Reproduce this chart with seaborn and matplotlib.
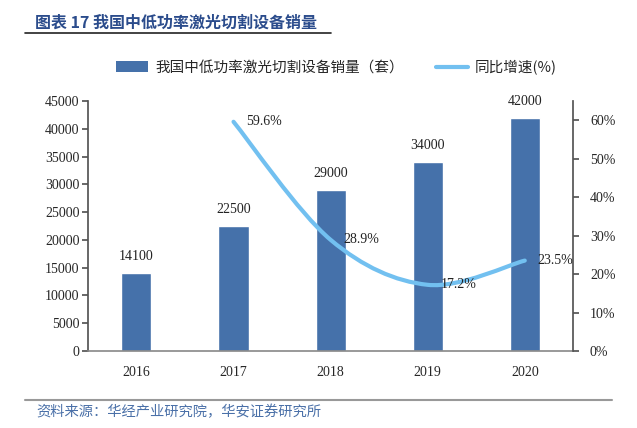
import numpy as np
import pandas as pd
import matplotlib
matplotlib.use("Agg")
import matplotlib.pyplot as plt
from matplotlib.path import Path
from matplotlib.patches import PathPatch, Patch
from matplotlib.lines import Line2D
import seaborn as sns

years = ["2016", "2017", "2018", "2019", "2020"]
sales = [14100, 22500, 29000, 34000, 42000]
growth = [None, 0.596, 0.289, 0.172, 0.235]
growth_labels = ["", "59.6%", "28.9%", "17.2%", "23.5%"]

bar_color = "#4571AA"
line_color = "#72C0F0"
title_color = "#2B4C8C"
cjk = ["Noto Sans CJK SC", "DejaVu Sans"]
serif = ["Liberation Serif", "DejaVu Serif"]

sns.set_theme(style="white")
plt.rcParams["font.family"] = serif

df = pd.DataFrame({"year": years, "sales": sales})

fig = plt.figure(figsize=(6.37, 4.28), dpi=100)
ax = fig.add_axes([0.138, 0.18, 0.762, 0.584])

sns.barplot(data=df, x="year", y="sales", color=bar_color, width=0.31,
            saturation=1, ax=ax)
ax.set_ylim(0, 45000)
ax.set_yticks(range(0, 45001, 5000))
ax.set_xlabel("")
ax.set_ylabel("")
for i, v in enumerate(sales):
    ax.text(i, v + 1800, str(v), ha="center", va="bottom", fontsize=10,
            color="#222222")

for s in ["top", "right"]:
    ax.spines[s].set_visible(False)
ax.spines["left"].set_color("#555555")
ax.spines["bottom"].set_color("#888888")
ax.spines["bottom"].set_linewidth(1.2)
ax.tick_params(axis="y", left=True, length=4, color="#555555", labelsize=10,
               pad=2)
ax.tick_params(axis="x", bottom=False, labelsize=10, pad=5)

ax2 = ax.twinx()
ax2.set_ylim(0, 0.65)
ax2.set_yticks(np.arange(0, 0.61, 0.1))
ax2.set_yticklabels([f"{int(round(t * 100))}%" for t in np.arange(0, 0.61, 0.1)])
for s in ["top", "left", "bottom"]:
    ax2.spines[s].set_visible(False)
ax2.spines["right"].set_color("#555555")
ax2.tick_params(axis="y", right=True, length=4, color="#555555", labelsize=10,
                pad=8)
ax2.grid(False)
ax.grid(False)

# smooth line (Catmull-Rom rendered as cubic Bezier through the data points)
pts = [(i, g) for i, g in enumerate(growth) if g is not None]
verts = [pts[0]]
codes = [Path.MOVETO]
for k in range(len(pts) - 1):
    p0 = pts[k - 1] if k > 0 else pts[k]
    p1, p2 = pts[k], pts[k + 1]
    p3 = pts[k + 2] if k + 2 < len(pts) else pts[k + 1]
    c1 = (p1[0] + (p2[0] - p0[0]) / 6, p1[1] + (p2[1] - p0[1]) / 6)
    c2 = (p2[0] - (p3[0] - p1[0]) / 6, p2[1] - (p3[1] - p1[1]) / 6)
    verts += [c1, c2, p2]
    codes += [Path.CURVE4] * 3
ax2.add_patch(PathPatch(Path(verts, codes), facecolor="none",
                        edgecolor=line_color, lw=3, capstyle="round"))

for i, g in enumerate(growth):
    if g is None:
        continue
    ax2.text(i + 0.13, g, growth_labels[i], ha="left", va="center",
             fontsize=10, color="#222222")
ax.set_xlim(-0.5, 4.5)

# legend
handles = [Patch(facecolor=bar_color, edgecolor="none"),
           Line2D([0], [0], color=line_color, lw=3)]
fig.legend(handles, ["我国中低功率激光切割设备销量（套）", "同比增速(%)"],
           loc="center", bbox_to_anchor=(0.528, 0.843), ncol=2, frameon=False,
           prop={"family": cjk, "size": 10.5}, handlelength=2.2,
           columnspacing=2.2, handletextpad=0.5)

# title and source
fig.text(0.055, 0.948, "图表 17 我国中低功率激光切割设备销量", fontsize=11.5,
         fontweight="bold", color=title_color, family=cjk, va="center")
fig.add_artist(Line2D([0.04, 0.52], [0.922, 0.922], color="#222222", lw=1.2))
fig.add_artist(Line2D([0.04, 0.96], [0.065, 0.065], color="#999999", lw=1.5))
fig.text(0.057, 0.038, "资料来源：华经产业研究院，华安证券研究所", fontsize=10.3,
         color="#4A70A8", family=cjk, va="center")

fig.savefig("out.png", dpi=100)
